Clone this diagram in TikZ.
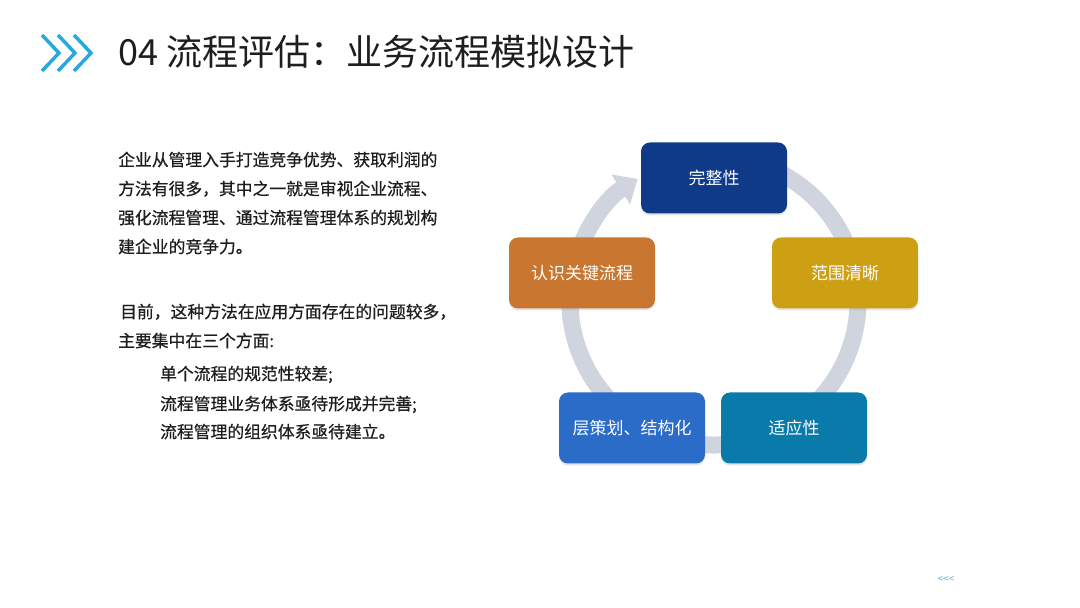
\documentclass[tikz,border=0pt]{standalone}
\usepackage{fontspec}
\setmainfont{Noto Sans CJK SC}
\newfontfamily\bodyfont[FakeBold=0.6]{Noto Sans CJK SC}
\usetikzlibrary{arrows.meta,shadows}
\definecolor{navybox}{RGB}{14,58,135}
\definecolor{goldbox}{RGB}{205,160,20}
\definecolor{tealbox}{RGB}{10,122,170}
\definecolor{bluebox}{RGB}{42,108,200}
\definecolor{orangebox}{RGB}{200,118,48}
\definecolor{ringgray}{RGB}{208,212,222}
\definecolor{chevblue}{RGB}{40,168,222}
\definecolor{inkgray}{RGB}{30,30,30}
\definecolor{backcyan}{RGB}{90,180,200}
\begin{document}
\begin{tikzpicture}[x=1pt,y=1pt,
        box/.style={rounded corners=9pt,minimum width=146pt,minimum height=71pt,inner sep=0pt,
          text=white,font=\fontsize{17}{20}\selectfont,
          drop shadow={opacity=0.2,shadow xshift=0pt,shadow yshift=-2pt}},
        ring/.style={line width=17pt,color=ringgray},
        chev/.style={line width=3.5pt,color=chevblue},
        body/.style={anchor=base west,inner sep=0pt,text=inkgray,font=\bodyfont\fontsize{16.8}{20}\selectfont}]
        \useasboundingbox[fill=white] (0,0) rectangle (1080,608);
        \foreach \i in {0,1,2}
          \draw[chev] (42+16*\i,573)--(59+16*\i,555)--(42+16*\i,537);
        \node[anchor=base west,inner sep=0pt,text=inkgray,font=\fontsize{36}{40}\selectfont] (title) at (118,542) {04 流程评估：业务流程模拟设计};
        \foreach \x/\y/\t [count=\i] in {118/442/企业从管理入手打造竞争优势、获取利润的,
            118/413/方法有很多，其中之一就是审视企业流程、,
            118/384/强化流程管理、通过流程管理体系的规划构,
            118/355/建企业的竞争力。,
            120/290/目前，这种方法在应用方面存在的问题较多，,
            118/261/主要集中在三个方面:,
            160/228/单个流程的规范性较差;,
            160/198/流程管理业务体系亟待形成并完善;,
            160/170/流程管理的组织体系亟待建立。}
          \node[body] (line\i) at (\x,\y) {\t};
        \draw[ring,-{Triangle[width=34pt,length=20pt]}] (714,307)+(78:144) arc[start angle=78,end angle=-238,radius=144];
        \node[box,fill=navybox] (complete) at (714,430) {完整性};
        \node[box,fill=goldbox] (clear) at (845,335) {范围清晰};
        \node[box,fill=tealbox] (adapt) at (794,180) {适应性};
        \node[box,fill=bluebox] (struct) at (632,180) {层策划、结构化};
        \node[box,fill=orangebox] (key) at (582,335) {认识关键流程};
        \node[inner sep=0pt,text=backcyan,font=\fontsize{10}{12}\selectfont] (back) at (946,28) {{<}{<}{<}};
\end{tikzpicture}
\end{document}
